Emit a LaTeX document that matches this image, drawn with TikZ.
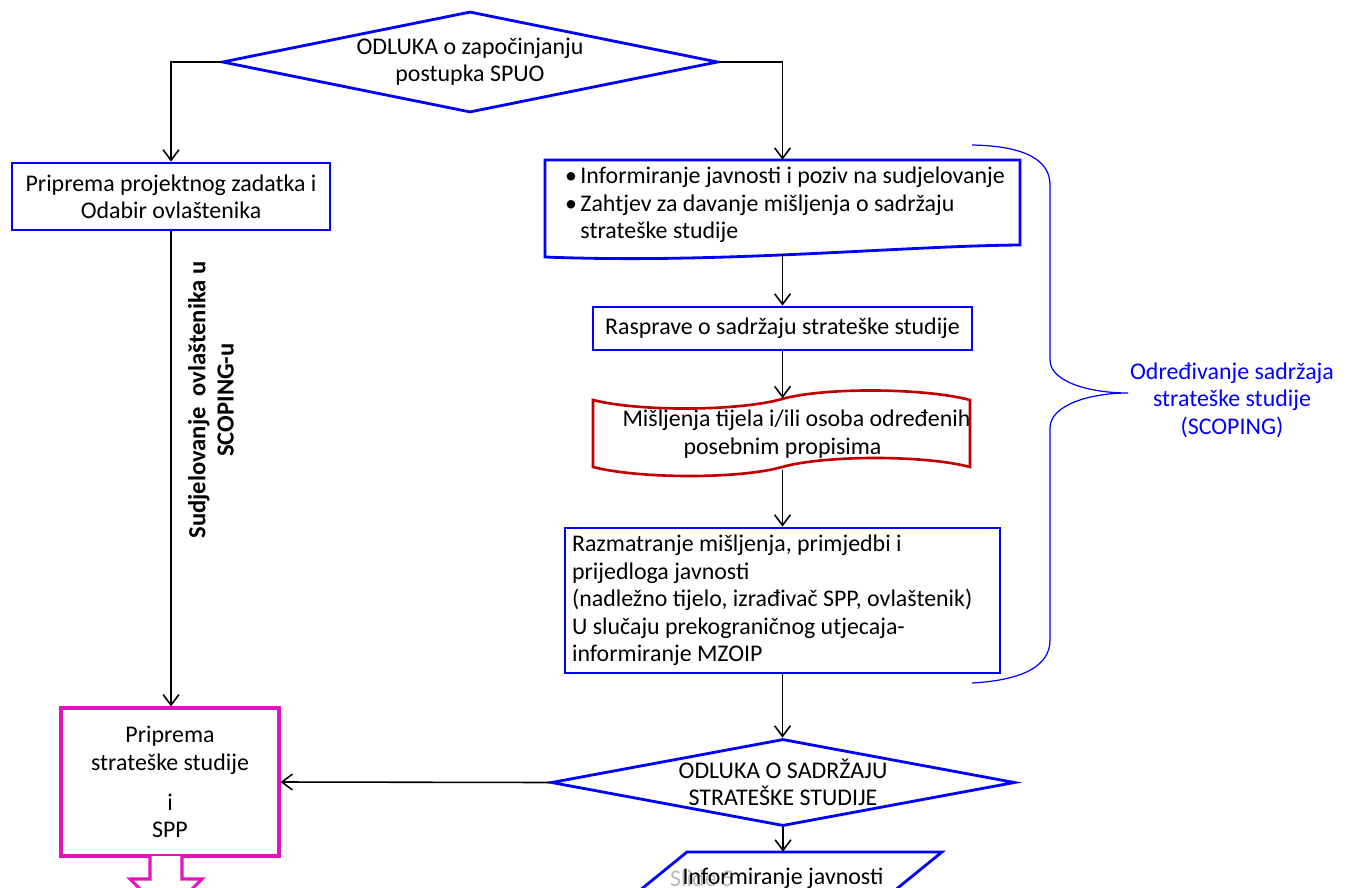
\documentclass[tikz,border=0pt]{standalone}
\usepackage{fontspec}
\setmainfont{Carlito}
\usepackage{xcolor}
\usepackage{tikz}
\definecolor{boxblue}{RGB}{0,0,255}
\definecolor{boxred}{RGB}{192,0,0}
\definecolor{boxpink}{RGB}{226,20,190}
\definecolor{slidegray}{RGB}{185,185,185}
\usetikzlibrary{shapes.geometric,arrows.meta}

\begin{document}
\begin{tikzpicture}[x=0.02cm, y=-0.02cm,
    every node/.style={font=\fontsize{13.6}{15.6}\selectfont},
    bluebox/.style={draw=boxblue, line width=1.6pt, inner sep=0pt},
    decision/.style={diamond, draw=boxblue, line width=1.6pt, inner sep=0pt},
    flow/.style={-{Straight Barb[length=6pt,width=9pt]}, line width=0.9pt}]
    \useasboundingbox (0,0) rectangle (1351,888);
    \clip (0,0) rectangle (1351,888);

    % Decision at the top
    \node[decision, minimum width=9.92cm, minimum height=2.02cm] (odluka) at (470,62) {};
    \node[align=center] at (odluka) {ODLUKA o započinjanju\\postupka SPUO};

    % Left branch
    \node[bluebox, minimum width=6.36cm, minimum height=1.34cm, align=center] (zadatak) at (171,196.5) {Priprema projektnog zadatka i\\Odabir ovlaštenika};
    \node[font=\fontsize{14}{16}\selectfont\bfseries, rotate=90, align=center] (sudjelovanje) at (211,400) {Sudjelovanje\ \ ovlaštenika u\\SCOPING-u};

    % Right branch: document box
    \node[minimum width=9.5cm, minimum height=1.76cm] (poziv) at (782.5,204) {};
    \node[anchor=west, inner sep=0pt, align=flush left] (poziv tekst) at ([xshift=0.4cm, yshift=-0.02cm]poziv.west) {\textbullet\hspace{2pt}Informiranje javnosti i poziv na sudjelovanje\\\textbullet\hspace{2pt}Zahtjev za davanje mišljenja o sadržaju\\\hphantom{\textbullet\hspace{2pt}}strateške studije};
    \draw[boxblue, line width=1.6pt] (545,257) -- (545,160) -- (1020,160) -- (1020,245) .. controls (900,246) and (720,264) .. cycle;

    \node[bluebox, minimum width=7.58cm, minimum height=0.86cm] (rasprave) at (782.5,328.5) {Rasprave o sadržaju strateške studije};

    % Tape with opinions
    \node[minimum width=7.54cm, minimum height=1.42cm, align=center] (misljenja) at (782.5,434) {\hspace*{0.56cm}Mišljenja tijela i/ili osoba određenih\\posebnim propisima};
    \draw[boxred, line width=1.5pt] (593,400) .. controls (640,412) and (740,411) .. (782,399) .. controls (825,387) and (925,388) .. (970,400)
        -- (970,467) .. controls (925,455) and (825,455) .. (782,467) .. controls (740,479) and (640,479) .. (593,467) -- cycle;

    \node[bluebox, minimum width=8.7cm, minimum height=2.9cm, inner xsep=0.14cm, text width=8.42cm, align=flush left] (razmatranje) at (782.5,600.5) {Razmatranje mišljenja, primjedbi i\\prijedloga javnosti\\(nadležno tijelo, izrađivač SPP, ovlaštenik)\\U slučaju prekograničnog utjecaja-\\informiranje MZOIP};

    % Decision at the bottom
    \node[decision, minimum width=9.28cm, minimum height=1.74cm] (odlukasad) at (783,782.5) {};
    \node[align=center] at (odlukasad) {ODLUKA O SADRŽAJU\\STRATEŠKE STUDIJE};

    % Preparation box and block arrow
    \node[draw=boxpink, line width=1.8pt, minimum width=4.36cm, minimum height=2.96cm, align=center] (studija) at (170,782) {Priprema\\strateške studije\\[7pt]i\\SPP};
    \draw[boxpink, line width=1.8pt, fill=white] (150,856) -- (150,879) -- (130,879) -- (166,915) -- (202,879) -- (182,879) -- (182,856);

    % Public information
    \node[anchor=west, text=slidegray] (slajd) at (664,878) {Slide 5};
    \node[minimum height=1.04cm] (javnost) at (783,878) {Informiranje javnosti};
    \draw[boxblue, line width=1.6pt] (687,852) -- (942,852) -- (878,904) -- (623,904) -- cycle;

    % Brace and its label
    \draw[boxblue, line width=0.7pt] (972,145) .. controls (1025,146) and (1050,160) .. (1050,185) -- (1050,360)
        .. controls (1050,382) and (1090,393) .. (1128,393) .. controls (1090,393) and (1050,405) .. (1050,428)
        -- (1050,640) .. controls (1050,665) and (1025,680) .. (972,683);
    \node[text=boxblue, align=center] (scoping) at (1232,400) {Određivanje sadržaja\\strateške studije\\(SCOPING)};

    % Connectors
    \draw[flow] (odluka.west) -| (zadatak.north);
    \draw[flow] (odluka.east) -| (poziv.north);
    \draw[flow] (zadatak.south) -- (zadatak.south |- studija.north);
    \draw[flow, shorten <=0.12cm] (poziv.south) -- (rasprave.north);
    \draw[flow] (rasprave.south) -- (misljenja.north);
    \draw[flow] (misljenja.south) -- (razmatranje.north);
    \draw[flow] (razmatranje.south) -- (razmatranje.south |- odlukasad.north);
    \draw[flow] (odlukasad.west) -- (studija.east);
    \draw[flow] (odlukasad.south) -- (javnost.north);
\end{tikzpicture}
\end{document}
